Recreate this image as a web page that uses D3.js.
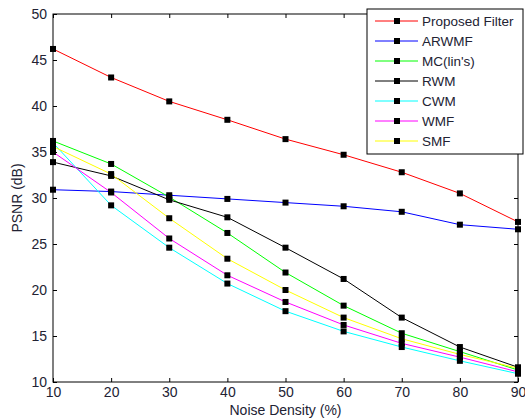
<!DOCTYPE html>
<html>
<head>
<meta charset="utf-8">
<script src="https://cdn.jsdelivr.net/npm/d3@7"></script>
<style>
  body { margin: 0; background: #fff; }
  svg { display: block; font-family: Arial, "Liberation Sans", sans-serif; }
</style>
</head>
<body>
<div id="chart"></div>
<script>
const noiseDensity = [10, 20, 30, 40, 50, 60, 70, 80, 90];

const proposed = [46.2, 43.1, 40.5, 38.5, 36.4, 34.7, 32.8, 30.5, 27.4];
const arwmf    = [30.9, 30.7, 30.3, 29.9, 29.5, 29.1, 28.5, 27.1, 26.6];
const mcLins   = [36.2, 33.7, 30.1, 26.2, 21.9, 18.3, 15.3, 13.3, 11.3];
const rwm      = [33.9, 32.4, 29.8, 27.9, 24.6, 21.2, 17.0, 13.8, 11.6];
const cwm      = [36.0, 29.2, 24.6, 20.7, 17.7, 15.5, 13.8, 12.3, 10.9];
const wmf      = [35.0, 30.6, 25.6, 21.6, 18.7, 16.2, 14.2, 12.7, 11.1];
const smf      = [35.6, 32.6, 27.8, 23.4, 20.0, 17.0, 14.7, 13.0, 11.5];

const seriesNames  = ['Proposed Filter', 'ARWMF', "MC(lin's)", 'RWM', 'CWM', 'WMF', 'SMF'];
const seriesValues = [proposed, arwmf, mcLins, rwm, cwm, wmf, smf];
const seriesColors = ['#ff0000', '#0000ff', '#00ff00', '#000000', '#00ffff', '#ff00ff', '#ffff00'];

const xTicks = [10, 20, 30, 40, 50, 60, 70, 80, 90];
const yTicks = [10, 15, 20, 25, 30, 35, 40, 45, 50];

const width = 525, height = 420;
const margin = { top: 14, right: 7, bottom: 38, left: 53 };

const svg = d3.select('#chart').append('svg')
  .attr('width', width)
  .attr('height', height);

const x = d3.scaleLinear().domain([10, 90]).range([margin.left, width - margin.right]);
const y = d3.scaleLinear().domain([10, 50]).range([height - margin.bottom, margin.top]);

const textColor = '#222233';

// frame box
svg.append('rect')
  .attr('x', x(10)).attr('y', y(50))
  .attr('width', x(90) - x(10)).attr('height', y(10) - y(50))
  .attr('fill', 'none').attr('stroke', '#000').attr('stroke-width', 1);

// axes with inward ticks
const bottomAxis = svg.append('g')
  .attr('transform', `translate(0,${y(10)})`)
  .call(d3.axisBottom(x).tickValues(xTicks).tickSizeInner(-4).tickSizeOuter(0).tickPadding(5));
const topAxis = svg.append('g')
  .attr('transform', `translate(0,${y(50)})`)
  .call(d3.axisTop(x).tickValues(xTicks).tickSizeInner(-4).tickSizeOuter(0).tickFormat(''));
const leftAxis = svg.append('g')
  .attr('transform', `translate(${x(10)},0)`)
  .call(d3.axisLeft(y).tickValues(yTicks).tickSizeInner(-4).tickSizeOuter(0).tickPadding(6));
const rightAxis = svg.append('g')
  .attr('transform', `translate(${x(90)},0)`)
  .call(d3.axisRight(y).tickValues(yTicks).tickSizeInner(-4).tickSizeOuter(0).tickFormat(''));

[bottomAxis, topAxis, leftAxis, rightAxis].forEach(g => {
  g.select('.domain').remove();
  g.selectAll('.tick line').attr('stroke', '#000');
  g.selectAll('.tick text')
    .attr('fill', textColor)
    .attr('font-size', 14)
    .attr('font-family', 'Arial, "Liberation Sans", sans-serif');
});

// axis labels
svg.append('text')
  .attr('x', (x(10) + x(90)) / 2)
  .attr('y', 415)
  .attr('text-anchor', 'middle')
  .attr('font-size', 14)
  .attr('fill', textColor)
  .text('Noise Density (%)');

svg.append('text')
  .attr('transform', `translate(22,${(y(10) + y(50)) / 2}) rotate(-90)`)
  .attr('text-anchor', 'middle')
  .attr('font-size', 14)
  .attr('fill', textColor)
  .text('PSNR (dB)');

// series lines and markers
const line = d3.line()
  .x((d, i) => x(noiseDensity[i]))
  .y(d => y(d));

const plot = svg.append('g');
seriesValues.forEach((vals, k) => {
  plot.append('path')
    .datum(vals)
    .attr('fill', 'none')
    .attr('stroke', seriesColors[k])
    .attr('stroke-width', 1)
    .attr('d', line);
});
seriesValues.forEach((vals, k) => {
  plot.selectAll(null)
    .data(vals)
    .join('rect')
    .attr('x', (d, i) => x(noiseDensity[i]) - 3)
    .attr('y', d => y(d) - 3)
    .attr('width', 6)
    .attr('height', 6)
    .attr('fill', '#000');
});

// legend
const legend = svg.append('g').attr('transform', 'translate(367,9)');
legend.append('rect')
  .attr('x', 0).attr('y', 0)
  .attr('width', 156).attr('height', 145)
  .attr('fill', '#fff').attr('stroke', '#000').attr('stroke-width', 1);

const items = legend.selectAll('g.item')
  .data(seriesNames)
  .join('g')
  .attr('class', 'item')
  .attr('transform', (d, i) => `translate(0,${12 + i * 20})`);

items.append('line')
  .attr('x1', 8).attr('x2', 51)
  .attr('y1', 0).attr('y2', 0)
  .attr('stroke', (d, i) => seriesColors[i])
  .attr('stroke-width', 1);
items.append('rect')
  .attr('x', 27).attr('y', -3)
  .attr('width', 6).attr('height', 6)
  .attr('fill', '#000');
items.append('text')
  .attr('x', 55)
  .attr('y', 0)
  .attr('dy', '0.36em')
  .attr('font-size', 13.5)
  .attr('fill', textColor)
  .text(d => d);
</script>
</body>
</html>
